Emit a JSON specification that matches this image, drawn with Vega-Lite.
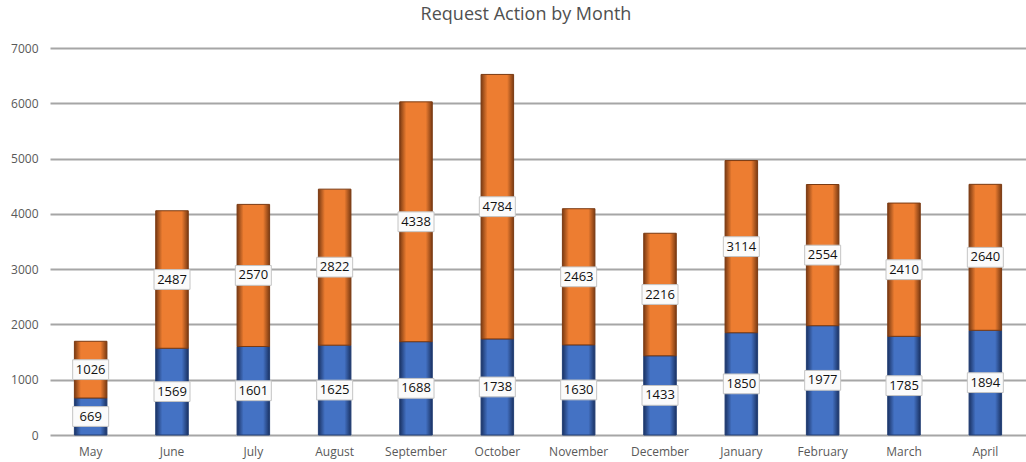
{
  "$schema": "https://vega.github.io/schema/vega-lite/v6.json",
  "autosize": {"type": "none"},
  "width": 976,
  "height": 387,
  "padding": {"left": 50, "top": 48, "right": 0, "bottom": 27},
  "background": "white",
  "title": {"text": "Request Action by Month", "fontSize": 18, "font": "Open Sans", "fontWeight": "normal", "color": "#505050", "offset": 18, "anchor": "middle", "dx": -12},
  "config": {"view": {"stroke": null}},
  "data": {"values": [
    {"month": "May", "series": "Series 1", "value": 669},
    {"month": "May", "series": "Series 2", "value": 1026},
    {"month": "June", "series": "Series 1", "value": 1569},
    {"month": "June", "series": "Series 2", "value": 2487},
    {"month": "July", "series": "Series 1", "value": 1601},
    {"month": "July", "series": "Series 2", "value": 2570},
    {"month": "August", "series": "Series 1", "value": 1625},
    {"month": "August", "series": "Series 2", "value": 2822},
    {"month": "September", "series": "Series 1", "value": 1688},
    {"month": "September", "series": "Series 2", "value": 4338},
    {"month": "October", "series": "Series 1", "value": 1738},
    {"month": "October", "series": "Series 2", "value": 4784},
    {"month": "November", "series": "Series 1", "value": 1630},
    {"month": "November", "series": "Series 2", "value": 2463},
    {"month": "December", "series": "Series 1", "value": 1433},
    {"month": "December", "series": "Series 2", "value": 2216},
    {"month": "January", "series": "Series 1", "value": 1850},
    {"month": "January", "series": "Series 2", "value": 3114},
    {"month": "February", "series": "Series 1", "value": 1977},
    {"month": "February", "series": "Series 2", "value": 2554},
    {"month": "March", "series": "Series 1", "value": 1785},
    {"month": "March", "series": "Series 2", "value": 2410},
    {"month": "April", "series": "Series 1", "value": 1894},
    {"month": "April", "series": "Series 2", "value": 2640}
  ]},
  "transform": [
    {"stack": "value", "groupby": ["month"], "sort": [{"field": "series", "order": "ascending"}], "as": ["y0", "y1"]},
    {"calculate": "(datum.y0 + datum.y1) / 2", "as": "mid"}
  ],
  "encoding": {
    "x": {"field": "month", "type": "ordinal",
      "sort": ["May","June","July","August","September","October","November","December","January","February","March","April"],
      "scale": {"paddingInner": 0.6, "paddingOuter": 0.3},
      "axis": {"title": null, "labelAngle": 0, "domain": false, "ticks": false, "labelPadding": 11, "labelFont": "Open Sans", "labelFontSize": 12, "labelColor": "#595959"}}
  },
  "layer": [
    {
      "transform": [{"filter": "datum.series === 'Series 1'"}],
      "mark": {"type": "bar", "stroke": "#233f75", "strokeWidth": 1,
        "color": {"gradient": "linear", "x1": 0, "x2": 1, "y1": 0, "y2": 0,
          "stops": [{"offset": 0, "color": "#1a3263"}, {"offset": 0.2, "color": "#4472C4"}, {"offset": 0.8, "color": "#4472C4"}, {"offset": 1, "color": "#1a3263"}]}},
      "encoding": {
        "y": {"field": "y1", "type": "quantitative", "scale": {"domain": [0, 7000]},
          "axis": {"title": null, "values": [0,1000,2000,3000,4000,5000,6000,7000], "format": "d", "domain": false, "ticks": false, "grid": true, "gridColor": "#a6a6a6", "gridWidth": 2, "labelPadding": 12, "labelFont": "Open Sans", "labelFontSize": 12, "labelColor": "#595959"}},
        "y2": {"field": "y0"}
      }
    },
    {
      "transform": [{"filter": "datum.series === 'Series 2'"}],
      "mark": {"type": "bar", "stroke": "#7a3a12", "strokeWidth": 1,
        "color": {"gradient": "linear", "x1": 0, "x2": 1, "y1": 0, "y2": 0,
          "stops": [{"offset": 0, "color": "#7a3a12"}, {"offset": 0.2, "color": "#ED7D31"}, {"offset": 0.8, "color": "#ED7D31"}, {"offset": 1, "color": "#7a3a12"}]}},
      "encoding": {
        "y": {"field": "y1", "type": "quantitative"},
        "y2": {"field": "y0"}
      }
    },
    {
      "mark": {"type": "point", "shape": "M-1,-0.55H1V0.55H-1Z", "size": 1296, "filled": true, "fill": "#fbfbfb", "opacity": 1, "stroke": "#c4c4c4", "strokeWidth": 1},
      "encoding": {"y": {"field": "mid", "type": "quantitative"}}
    },
    {
      "mark": {"type": "text", "font": "Open Sans", "fontSize": 13, "color": "#111111", "baseline": "middle", "align": "center"},
      "encoding": {"y": {"field": "mid", "type": "quantitative"}, "text": {"field": "value", "type": "quantitative", "format": "d"}}
    }
  ]
}
